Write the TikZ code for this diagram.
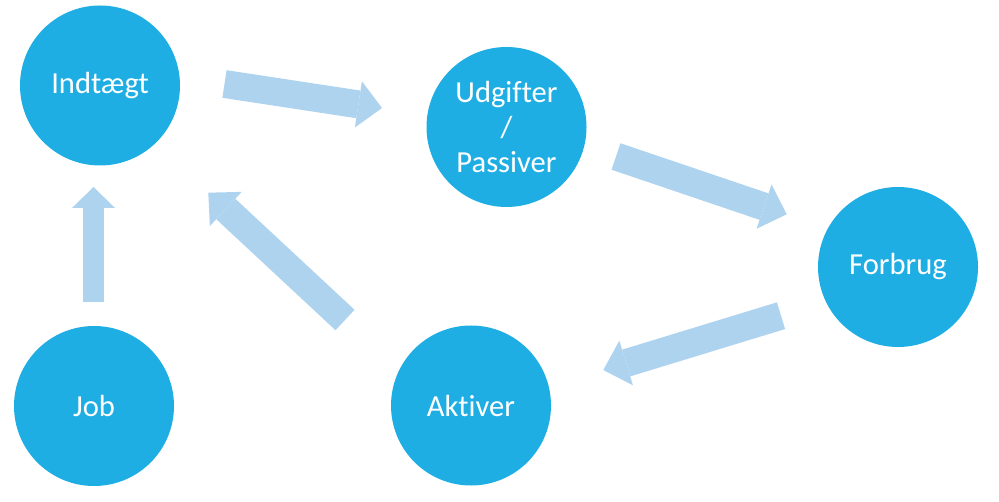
\documentclass[tikz,border=0pt]{standalone}
\usepackage{fontspec}
\setmainfont{Carlito}[Ligatures=NoCommon]
\usepackage{tikz}
\usetikzlibrary{calc,arrows.meta}
\definecolor{ballblue}{RGB}{31,174,227}
\definecolor{flowblue}{RGB}{174,211,239}

\begin{document}
\begin{tikzpicture}[x=0.02cm,y=-0.02cm,
	ball/.style={circle, fill=ballblue, minimum size=160*0.02cm, inner sep=0pt,
		text=white, font=\fontsize{17.4}{20}\selectfont, align=center},
	flow/.style={draw=flowblue, line width=15.9pt,
		-{Triangle[length=13.6pt, width=26.6pt, line width=0pt, fill=flowblue]}},
	smallflow/.style={draw=flowblue, line width=11.9pt,
		-{Triangle[length=11.9pt, width=24.4pt, line width=0pt, fill=flowblue]}}]
	\useasboundingbox (0,0) rectangle (999,502);

	\node[ball] (indt) at (100,85.5) {Indtægt};
	\node[ball] (udg) at (506.5,127) {Udgifter\\/\\Passiver};
	\node[ball] (forb) at (898,267) {Forbrug};
	\node[ball] (job) at (94,406) {Job};
	\node[ball] (akt) at (471,405.5) {Aktiver};

	\coordinate (a1) at (224.5,84);
	\coordinate (b1) at (382,108);
	\coordinate (a2) at (616,156.5);
	\coordinate (b2) at (786.7,214.3);
	\coordinate (a3) at (781,315.7);
	\coordinate (b3) at (603.3,370);
	\coordinate (a4) at (345,320);
	\coordinate (b4) at (208.3,192.7);
	\coordinate (a5) at (93.5,302);
	\coordinate (b5) at (93.5,187);

	\draw[flow] (a1) -- (b1);
	\draw[flow] (a2) -- (b2);
	\draw[flow] (a3) -- (b3);
	\draw[flow] (a4) -- (b4);
	\draw[smallflow] (a5) -- (b5);
\end{tikzpicture}
\end{document}
